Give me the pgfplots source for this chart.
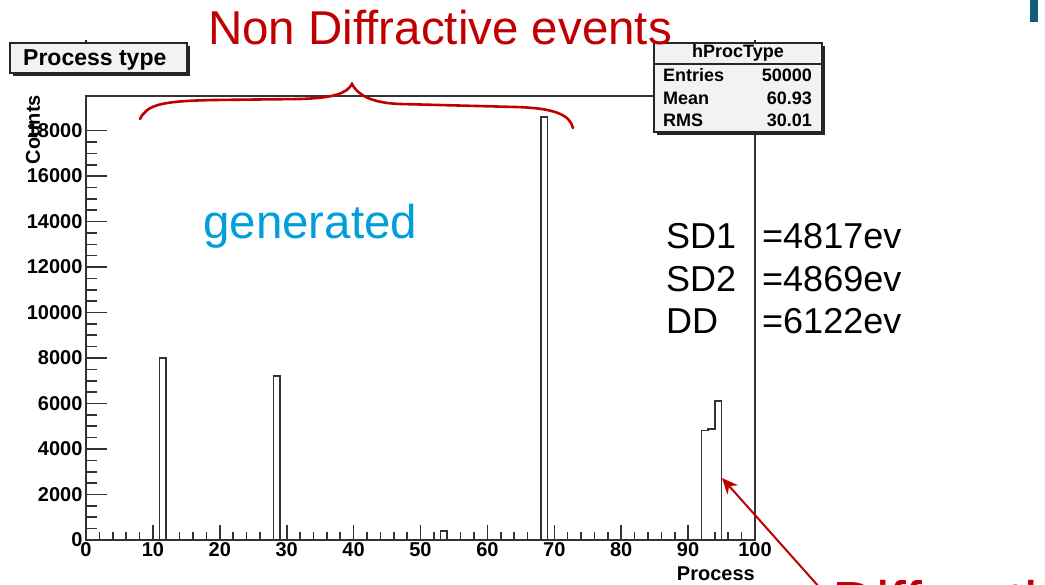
\documentclass[border=0pt]{standalone}
\usepackage{pgfplots}
\pgfplotsset{compat=1.18}
\usepackage{fontspec}
\setmainfont{Liberation Sans}
\usetikzlibrary{arrows.meta}
\definecolor{annred}{RGB}{192,0,0}
\definecolor{annblue}{RGB}{0,158,219}
\definecolor{teal2}{RGB}{16,92,122}
\definecolor{boxgray}{RGB}{242,242,242}
\newcommand{\tickfont}{\fontsize{20}{24}\bfseries\selectfont}
\newcommand{\statfont}{\fontsize{18}{21}\bfseries\selectfont}
\newcommand{\bigfont}{\fontsize{47.5}{56}\selectfont}
\newcommand{\midfont}{\fontsize{36}{43}\selectfont}
\begin{document}
\begin{tikzpicture}[x=1pt,y=1pt]
\useasboundingbox (0,0) rectangle (1045,585);
% ---- axis with x ticks and histogram
\begin{axis}[
  at={(86pt,45pt)}, anchor=south west,
  width=669pt, height=444pt, scale only axis,
  xmin=0, xmax=100, ymin=0, ymax=19522,
  axis line style={line width=1.6pt, black!80},
  xtick={0,10,...,100}, minor x tick num=4,
  ytick=\empty,
  xtick pos=left,
  tick align=inside,
  major tick length=15pt, minor tick length=7.7pt,
  tick style={line width=1.6pt, black!80},
  /pgf/number format/assume math mode=true,
  xticklabel style={font=\tickfont, inner sep=2pt},
  xlabel={Process},
  xlabel style={at={(axis description cs:1,0)}, anchor=north east, yshift=-27pt, inner sep=0pt, font=\tickfont},
]
\addplot[const plot, line width=1.6pt, black!80] coordinates {
 (0,0) (11,8000) (12,0) (28,7200) (29,0) (53,400) (54,0) (68,18592) (69,0)
 (92,4817) (93,4869) (94,6122) (95,0) (100,0)
};
\end{axis}
% ---- axis with y ticks
\begin{axis}[
  at={(86pt,45pt)}, anchor=south west,
  width=669pt, height=444pt, scale only axis,
  xmin=0, xmax=100, ymin=0, ymax=19522,
  hide x axis,
  axis line style={line width=1.6pt, black!80},
  ytick={0,2000,...,18000}, minor y tick num=3,
  ytick pos=left,
  tick align=inside,
  major tick length=21pt, minor tick length=10.7pt,
  tick style={line width=1.6pt, black!80},
  scaled y ticks=false,
  /pgf/number format/assume math mode=true,
  yticklabel style={font=\tickfont, /pgf/number format/fixed, /pgf/number format/1000 sep={}},
]
\end{axis}
% y label
\node[rotate=90, anchor=east, inner sep=0pt, font=\tickfont] at (33,490) {Counts};
% title box
\fill[black!85] (13,509) rectangle (190,539);
\draw[line width=1.2pt, black!85, fill=boxgray] (10,512) rectangle (187,542);
\node[anchor=base west, inner sep=0pt, font=\fontsize{23}{27}\bfseries\selectfont] at (23,519) {Process type};
\draw[line width=1.2pt, black!85] (86,542) -- (86,545);
% stats box
\fill[black!85] (657,450) rectangle (825,539);
\draw[line width=1.2pt, black!85, fill=boxgray] (654,453) rectangle (822,542);
\draw[line width=1.2pt, black!85] (654,521) -- (822,521);
\draw[line width=1.2pt, black!85] (755,542) -- (755,545);
\node[font=\statfont, inner sep=0pt] at (738,532) {hProcType};
\node[font=\statfont, anchor=west, inner sep=0pt] at (663,510) {Entries};
\node[font=\statfont, anchor=east, inner sep=0pt] at (812,510) {50000};
\node[font=\statfont, anchor=west, inner sep=0pt] at (663,487) {Mean};
\node[font=\statfont, anchor=east, inner sep=0pt] at (812,487) {60.93};
\node[font=\statfont, anchor=west, inner sep=0pt] at (663,465) {RMS};
\node[font=\statfont, anchor=east, inner sep=0pt] at (812,465) {30.01};
% annotations
\node[anchor=base west, inner sep=0pt, font=\bigfont, text=annred] at (208,540) {Non Diffractive events};
\draw[annred, line width=2.6pt, line cap=round]
  (140,466) .. controls (147,480) and (160,484) .. (215,485)
  -- (300,486) .. controls (335,487) and (347,492) .. (352,501)
  .. controls (357,491) and (370,482) .. (400,481)
  -- (515,478) .. controls (555,477) and (570,470) .. (573,457);
\node[anchor=base west, inner sep=0pt, font=\bigfont, text=annblue] at (203,346) {generated};
\node[anchor=base west, inner sep=0pt, font=\midfont] at (666,336) {SD1};
\node[anchor=base west, inner sep=0pt, font=\midfont] at (762,336) {=4817ev};
\node[anchor=base west, inner sep=0pt, font=\midfont] at (666,293) {SD2};
\node[anchor=base west, inner sep=0pt, font=\midfont] at (762,293) {=4869ev};
\node[anchor=base west, inner sep=0pt, font=\midfont] at (666,251) {DD};
\node[anchor=base west, inner sep=0pt, font=\midfont] at (762,251) {=6122ev};
\begin{scope}
\clip (0,0) rectangle (1045,585);
\draw[annred, line width=2pt, -{Stealth[length=16pt, width=14pt]}] (828,-12) -- (722,107);
\node[anchor=base west, inner sep=0pt, font=\fontsize{61}{72}\selectfont, text=annred] at (832,-40) {Diffractive};
\fill[teal2] (1030,563) rectangle (1038,585);
\end{scope}
\end{tikzpicture}
\end{document}
